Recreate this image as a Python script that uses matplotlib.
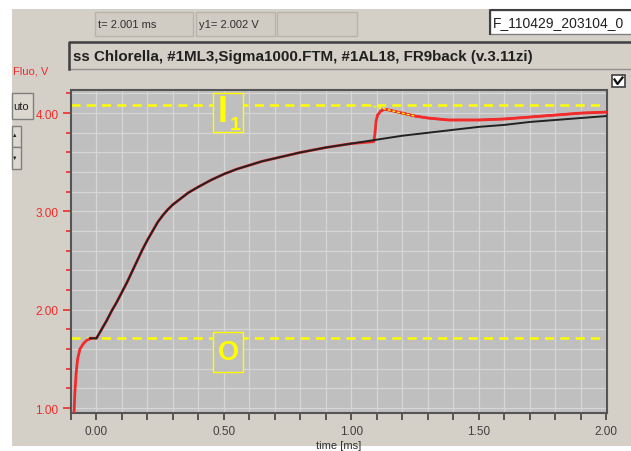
#!/usr/bin/env python3
"""Fluorescence induction trace (Chlorella) - screenshot style recreation."""

import matplotlib
matplotlib.use("Agg")
import matplotlib.pyplot as plt
from matplotlib.patches import Rectangle
from matplotlib.lines import Line2D
from matplotlib.ticker import MultipleLocator, FormatStrFormatter
from matplotlib.transforms import Affine2D

# ---------- data ----------
# dark-adapted reference trace (black)
t_ref = [-0.025, 0.00, 0.02, 0.04, 0.06, 0.08, 0.10, 0.12, 0.14, 0.16, 0.18,
         0.20, 0.22, 0.24, 0.26, 0.28, 0.30, 0.33, 0.36, 0.40, 0.45, 0.50,
         0.55, 0.60, 0.65, 0.70, 0.80, 0.90, 1.00, 1.10, 1.20, 1.30, 1.40,
         1.50, 1.60, 1.70, 1.80, 1.90, 2.00]
v_ref = [1.71, 1.71, 1.80, 1.89, 1.99, 2.08, 2.18, 2.28, 2.39, 2.50, 2.61,
         2.71, 2.80, 2.89, 2.96, 3.02, 3.07, 3.13, 3.19, 3.25, 3.32, 3.38,
         3.43, 3.47, 3.51, 3.54, 3.60, 3.65, 3.69, 3.73, 3.77, 3.80, 3.83,
         3.86, 3.88, 3.91, 3.93, 3.95, 3.97]

# measured trace (red): onset, then follows reference, then jump after 1.09 ms
t_onset = [-0.088, -0.085, -0.080, -0.074, -0.065, -0.050, -0.038, -0.020]
v_onset = [0.95, 1.15, 1.35, 1.50, 1.60, 1.66, 1.69, 1.71]
t_jump = [1.088, 1.093, 1.097, 1.103, 1.115, 1.13, 1.15, 1.20, 1.25, 1.30,
          1.38, 1.45, 1.50, 1.60, 1.70, 1.80, 1.90, 2.00]
v_jump = [3.71, 3.80, 3.92, 3.98, 4.02, 4.04, 4.03, 4.00, 3.97, 3.95,
          3.93, 3.93, 3.93, 3.94, 3.96, 3.98, 4.00, 4.01]

# yellow fit segment after the jump
t_fit = [1.05, 1.12, 1.18, 1.25]
v_fit = [4.09, 4.05, 4.01, 3.97]

# marker levels
LEVEL_O = 1.715
LEVEL_I1 = 4.085

X_TICKS = [0.0, 0.5, 1.0, 1.5, 2.0]
Y_TICKS = [1.0, 2.0, 3.0, 4.0]

TITLE = "ss Chlorella, #1ML3,Sigma1000.FTM, #1AL18, FR9back (v.3.11zi)"
FILE_ID = "F_110429_203104_0"
CURSOR_T = "t= 2.001 ms"
CURSOR_Y = "y1= 2.002 V"

# ---------- style ----------
plt.rcParams.update({
    "font.family": ["Liberation Sans", "DejaVu Sans"],
    "lines.scale_dashes": False,
})

W, H = 631, 452
PANEL = "#D4D0C8"
PLOT_BG = "#BFBFBF"
GRID = "#D6D6D6"
RED = "#F22A2A"
YELLOW = "#FFFF00"

fig = plt.figure(figsize=(W / 100, H / 100), dpi=100)
fig.patch.set_facecolor("#FFFFFF")
PX = Affine2D().scale(1 / W, -1 / H).translate(0, 1) + fig.transFigure


def box(x0, y0, x1, y1, fc=PANEL, ec="#A0A0A0", lw=1.0, z=-1):
    fig.add_artist(Rectangle((x0, y0), x1 - x0, y1 - y0, transform=PX,
                             facecolor=fc, edgecolor=ec, linewidth=lw, zorder=z))


def line(xs, ys, color, lw=1.0, z=-0.5):
    fig.add_artist(Line2D(xs, ys, transform=PX, color=color, linewidth=lw, zorder=z))


# window panel
box(12, 10, W + 2, 447, ec="none", z=-2)

# cursor readout boxes
for x0, x1, txt in [(95, 193, CURSOR_T), (196, 275, CURSOR_Y), (277, 357, "")]:
    box(x0, 13, x1, 37, fc="#D0CCC4", ec="#B8B4AC")
    if txt:
        fig.text(x0 + 3, 25.5, txt, transform=PX, fontsize=8, color="#303030",
                 ha="left", va="center")

# file id box
box(490, 11, W + 2, 35, fc="#FFFFFF", ec="#808080")
line([490, 490, W], [35, 11, 11], "#404040", lw=1.5)
fig.text(493, 23.5, FILE_ID, transform=PX, fontsize=10, color="#202020",
         ha="left", va="center")

# title box
box(69, 43, W + 2, 70, fc=PANEL, ec="#909090")
line([69, 69, W], [70, 43, 43], "#404040", lw=1.8)
fig.text(73, 57, TITLE, transform=PX, fontsize=10.9, fontweight="bold",
         color="#202020", ha="left", va="center")

# y label
fig.text(13, 71, "Fluo, V", transform=PX, fontsize=8, color=RED,
         ha="left", va="center")

# left buttons
box(12, 94, 33, 120, fc="#DCD8D0", ec="#808080")
fig.text(13, 107, "uto", transform=PX, fontsize=8, color="#202020",
         ha="left", va="center")
box(12, 127, 21, 148, fc="#DCD8D0", ec="#808080")
box(12, 148, 21, 170, fc="#DCD8D0", ec="#808080")
fig.text(15, 136, "\u25b2", transform=PX, fontsize=4, color="#202020",
         ha="center", va="center")
fig.text(15, 158, "\u25bc", transform=PX, fontsize=4, color="#202020",
         ha="center", va="center")

# checkbox
box(612, 76, 625, 88, fc="#FFFFFF", ec="#404040", lw=1.2, z=2)
line([614.5, 617.5, 622.5], [80.5, 85, 78.5], "#101010", lw=1.6, z=3)

# ---------- plot ----------
L, R, T, B = 71, 607, 91, 414
ax = fig.add_axes([L / W, 1 - B / H, (R - L) / W, (B - T) / H])
ax.set_facecolor(PLOT_BG)
ax.set_xlim(-0.1, 2.003)
ax.set_ylim(0.95, 4.235)

ax.xaxis.set_minor_locator(MultipleLocator(0.1))
ax.yaxis.set_minor_locator(MultipleLocator(0.2))
ax.set_xticks(X_TICKS)
ax.set_yticks(Y_TICKS)
ax.xaxis.set_major_formatter(FormatStrFormatter("%.2f"))
ax.yaxis.set_major_formatter(FormatStrFormatter("%.2f"))
ax.grid(which="both", color=GRID, linewidth=0.9, zorder=0)
ax.set_axisbelow(True)

ax.tick_params(axis="y", which="both", direction="out", colors=RED,
               labelcolor=RED, width=1.2, labelsize=8.5, pad=3)
ax.tick_params(axis="y", which="major", length=6)
ax.tick_params(axis="y", which="minor", length=3.5)
ax.tick_params(axis="x", which="both", direction="out", colors="#404040",
               labelcolor="#404040", width=1.2, length=5, labelsize=8.5, pad=4)
for sp in ax.spines.values():
    sp.set_color("#555555")
    sp.set_linewidth(1.5)

ax.set_xlabel("time [ms]", fontsize=8, color="#303030", labelpad=2)

# traces
pre_t = [t for t in t_ref if t < 1.088]
pre_v = v_ref[:len(pre_t)]
ax.plot(t_onset + pre_t + t_jump, v_onset + pre_v + v_jump,
        color=RED, linewidth=2.0, zorder=3)
ax.plot(t_ref, v_ref, color="#222222", linewidth=1.4, zorder=4)
ax.plot(t_jump[3:], v_jump[3:], color=RED, linewidth=1.6, zorder=5)
ax.plot(t_fit, v_fit, color=YELLOW, linewidth=1.0, linestyle=(0, (2, 1.5)),
        zorder=6)

# marker levels
for lvl in (LEVEL_O, LEVEL_I1):
    ax.axhline(lvl, color=YELLOW, linewidth=1.8, dashes=(6.5, 4.5), zorder=2)

# level label boxes (filled so the dashed level line stops at the box)
box(213, 94, 243, 133, fc=PLOT_BG, ec=YELLOW, lw=1.0, z=5)
fig.text(223, 113, "I", transform=PX, fontsize=26, fontweight="bold",
         color=YELLOW, ha="center", va="center", zorder=6)
fig.text(235, 125, "1", transform=PX, fontsize=14, fontweight="bold",
         color=YELLOW, ha="center", va="center", zorder=6)
box(213, 333, 243, 373, fc=PLOT_BG, ec=YELLOW, lw=1.0, z=5)
fig.text(228, 353.5, "O", transform=PX, fontsize=19.5, fontweight="bold",
         color=YELLOW, ha="center", va="center", zorder=6)

fig.savefig("out.png", dpi=100)
print("[OK] out.png")
